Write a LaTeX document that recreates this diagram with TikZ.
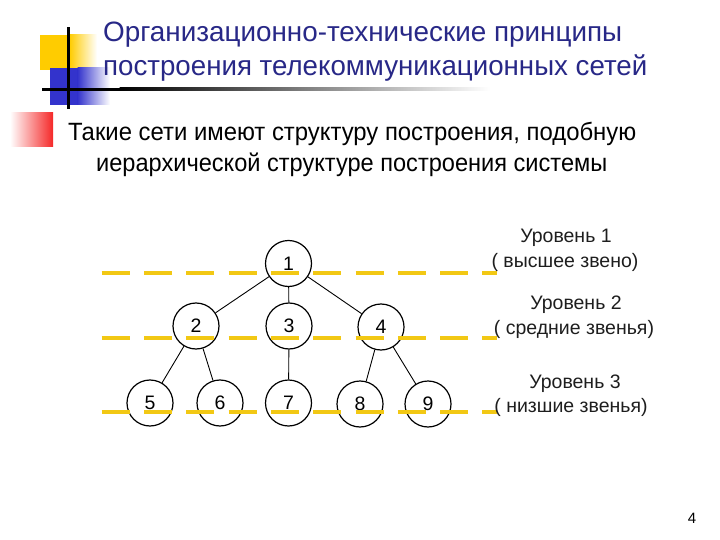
\documentclass[tikz,border=0pt]{standalone}
\usepackage{fontspec}
\usepackage{graphicx}
\setmainfont{Liberation Sans}
\definecolor{navy}{RGB}{40,40,135}
\definecolor{decoyel}{RGB}{255,204,0}
\definecolor{decoblue}{RGB}{51,51,204}
\definecolor{decored}{RGB}{245,40,40}
\definecolor{dashyel}{RGB}{242,200,20}
\definecolor{lbl}{RGB}{30,30,30}
\tikzset{
  treenode/.style={circle, draw=black, line width=1.2pt, fill=white, minimum size=46pt, inner sep=0pt, font=\fontsize{19.5}{22}\selectfont},
  edge/.style={draw=black, line width=0.9pt},
  levelline/.style={draw=dashyel, line width=4pt, dash pattern=on 28pt off 14.3pt},
  lvltext/.style={anchor=base, inner sep=0pt, text=lbl, font=\fontsize{19.5}{22}\selectfont},
  titletext/.style={anchor=base west, inner sep=0pt, text=navy, font=\fontsize{28}{30}\selectfont},
  bodytext/.style={anchor=base west, inner sep=0pt, text=black, font=\fontsize{25}{28}\selectfont}
}
\begin{document}
\begin{tikzpicture}[x=1pt,y=-1pt]
\path[use as bounding box, fill=white] (0,0) rectangle (720,540);
% decoration
\fill[decoyel] (40,35) rectangle (70,70);
\shade[left color=decoyel, right color=white] (69.5,35) rectangle (97,70);
\fill[decoblue] (50,68) rectangle (78,105);
\shade[left color=decoblue, right color=white] (77.5,68) rectangle (110,105);
\fill[black] (42,87.8) rectangle (120,90.8);
\shade[left color=black, right color=white] (119.5,87.8) rectangle (490,90.8);
\fill[black] (66.8,27) rectangle (69.8,109);
\shade[left color=white, right color=decored] (10,113) rectangle (53,147);
% title
\node[titletext] (t1) at (103,42) {\resizebox{519pt}{\height}{Организационно-технические принципы}};
\node[titletext] (t2) at (103,76) {\resizebox{544pt}{\height}{построения телекоммуникационных сетей}};
% body
\node[bodytext] (b1) at (68,141) {\resizebox{568pt}{\height}{Такие сети имеют структуру построения, подобную}};
\node[bodytext] (b2) at (96,172) {\resizebox{511pt}{\height}{иерархической структуре построения системы}};
% tree
\node[treenode] (n1) at (288.5,263.5) {1};
\node[treenode] (n2) at (196,326) {2};
\node[treenode] (n3) at (289,326) {3};
\node[treenode] (n4) at (381,327) {4};
\node[treenode] (n5) at (150,403) {5};
\node[treenode] (n6) at (220,403) {6};
\node[treenode] (n7) at (288.5,403) {7};
\node[treenode] (n8) at (360,404) {8};
\node[treenode] (n9) at (428,404) {9};
\draw[edge] (n1) -- (n2);
\draw[edge] (n1) -- (n3);
\draw[edge] (n1) -- (n4);
\draw[edge] (n2) -- (n5);
\draw[edge] (n2) -- (n6);
\draw[edge] (n3) -- (n7);
\draw[edge] (n4) -- (n8);
\draw[edge] (n4) -- (n9);
% level lines
\coordinate (l1a) at (101.7,272.7); \coordinate (l1b) at (497,272.7);
\coordinate (l2a) at (101.7,338); \coordinate (l2b) at (497,338);
\coordinate (l3a) at (101.7,412); \coordinate (l3b) at (497,412);
\draw[levelline] (l1a) -- (l1b);
\draw[levelline] (l2a) -- (l2b);
\draw[levelline] (l3a) -- (l3b);
% level labels
\node[lvltext] (u1) at (566,242.5) {Уровень 1};
\node[lvltext] (u1b) at (565,267.5) {( высшее звено)};
\node[lvltext] (u2) at (576,309) {Уровень 2};
\node[lvltext] (u2b) at (574,334) {( средние звенья)};
\node[lvltext] (u3) at (575,388.5) {Уровень 3};
\node[lvltext] (u3b) at (571,412) {( низшие звенья)};
% page number
\node[anchor=base, inner sep=0pt, font=\fontsize{15}{17}\selectfont] (pg) at (692,523) {4};
\end{tikzpicture}
\end{document}
